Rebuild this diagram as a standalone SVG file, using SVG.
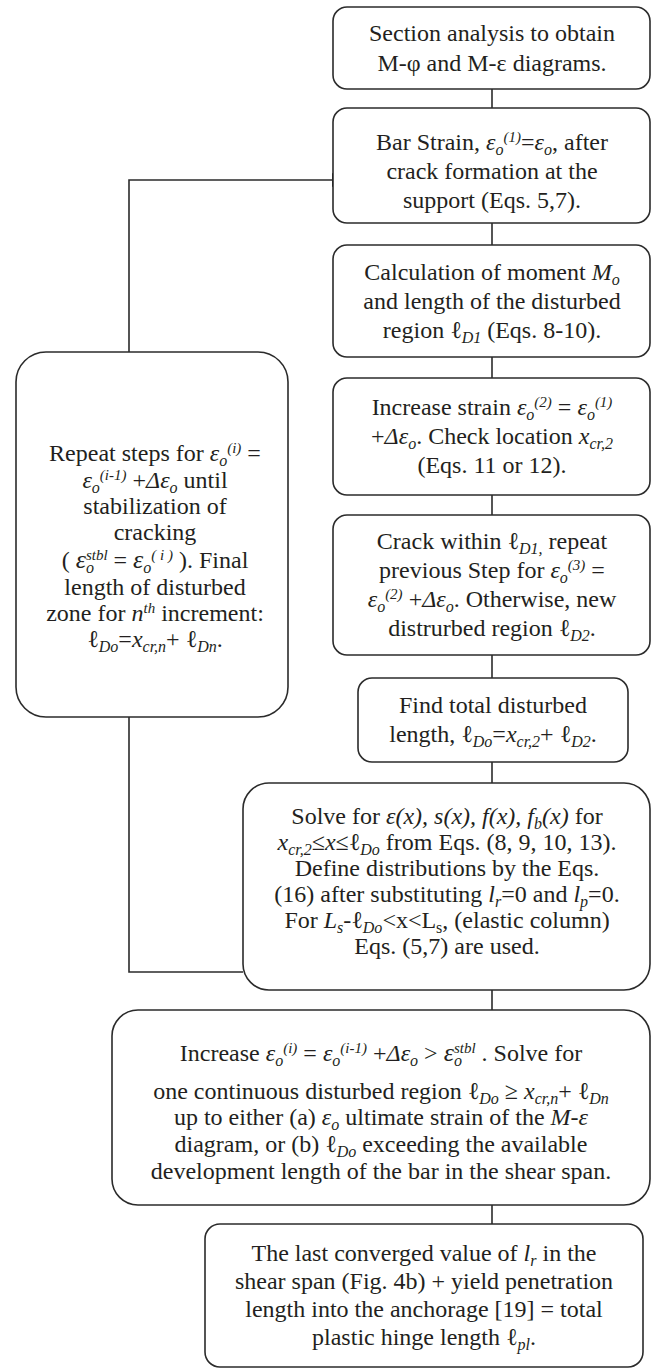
<svg xmlns="http://www.w3.org/2000/svg" width="657" height="1369" viewBox="0 0 657 1369">
<defs>
<style>
.b{fill:#fff;stroke:#2b2b2b;stroke-width:1.6}
.c{fill:none;stroke:#2b2b2b;stroke-width:1.6}
.t{font-family:"Liberation Serif","Times New Roman",serif;font-size:24px;fill:#231f20;text-anchor:middle}
.i{font-style:italic}
.sb{font-size:16px;baseline-shift:-5px}
.sp{font-size:15px;baseline-shift:8px}
.E{font-size:26px;font-style:italic}
</style>
<marker id="ah" viewBox="0 0 16 14" refX="16" refY="7" markerWidth="16" markerHeight="14" markerUnits="userSpaceOnUse" orient="auto">
<path d="M0,0 L16,7 L0,14 Z" fill="#1a1a1a"/>
</marker>
</defs>
<rect width="657" height="1369" fill="#fff"/>
<g id="connectors">
<line class="c" x1="492" y1="89" x2="492" y2="108"/>
<line class="c" x1="492" y1="223" x2="492" y2="245"/>
<line class="c" x1="492" y1="357" x2="492" y2="378"/>
<line class="c" x1="492" y1="495" x2="492" y2="515"/>
<line class="c" x1="492" y1="655" x2="492" y2="678"/>
<line class="c" x1="492" y1="762" x2="492" y2="783"/>
<line class="c" x1="492" y1="990" x2="492" y2="1010"/>
<line class="c" x1="492" y1="1205" x2="492" y2="1224"/>
<path class="c" d="M243,972 H129 V717"/>
<path class="c" d="M129,352 V180 H348" marker-end="url(#ah)"/>
</g>
<g id="n1">
<rect class="b" x="333" y="7" width="317" height="82" rx="14"/>
<text class="t" x="492" y="41">Section analysis to obtain</text>
<text class="t" x="492" y="71">M-φ and M-ε diagrams.</text>
</g>
<g id="n2">
<rect class="b" x="333" y="108" width="317" height="115" rx="14"/>
<text class="t" x="492" y="150">Bar Strain, <tspan class="i">ε</tspan><tspan class="i sb">o</tspan><tspan class="i sp">(1)</tspan>=<tspan class="i">ε</tspan><tspan class="i sb">o</tspan>, after</text>
<text class="t" x="492" y="179">crack formation at the</text>
<text class="t" x="492" y="208">support (Eqs. 5,7).</text>
</g>
<g id="n3">
<rect class="b" x="333" y="245" width="317" height="112" rx="14"/>
<text class="t" x="492" y="280">Calculation of moment <tspan class="i">M</tspan><tspan class="i sb">o</tspan></text>
<text class="t" x="492" y="309">and length of the disturbed</text>
<text class="t" x="492" y="338">region ℓ<tspan class="i sb">D1</tspan> (Eqs. 8-10).</text>
</g>
<g id="n4">
<rect class="b" x="333" y="378" width="317" height="117" rx="14"/>
<text class="t" x="492" y="415">Increase strain <tspan class="i">ε</tspan><tspan class="i sb">o</tspan><tspan class="i sp">(2)</tspan> = <tspan class="i">ε</tspan><tspan class="i sb">o</tspan><tspan class="i sp">(1)</tspan></text>
<text class="t" x="492" y="444">+<tspan class="i">Δε</tspan><tspan class="i sb">o</tspan>.  Check location <tspan class="i">x</tspan><tspan class="i sb">cr,2</tspan></text>
<text class="t" x="492" y="473">(Eqs. 11 or 12).</text>
</g>
<g id="n5">
<rect class="b" x="333" y="515" width="317" height="140" rx="14"/>
<text class="t" x="492" y="549">Crack within ℓ<tspan class="i sb">D1,</tspan> repeat</text>
<text class="t" x="492" y="578">previous Step for <tspan class="i">ε</tspan><tspan class="i sb">o</tspan><tspan class="i sp">(3)</tspan> =</text>
<text class="t" x="492" y="607"><tspan class="i">ε</tspan><tspan class="i sb">o</tspan><tspan class="i sp">(2)</tspan> +<tspan class="i">Δε</tspan><tspan class="i sb">o</tspan>. Otherwise, new</text>
<text class="t" x="492" y="636">distrurbed region ℓ<tspan class="i sb">D2</tspan>.</text>
</g>
<g id="n6">
<rect class="b" x="358" y="678" width="270" height="84" rx="14"/>
<text class="t" x="493" y="713">Find total disturbed</text>
<text class="t" x="493" y="742">length, ℓ<tspan class="i sb">Do</tspan>=<tspan class="i">x</tspan><tspan class="i sb">cr,2</tspan>+ ℓ<tspan class="i sb">D2</tspan>.</text>
</g>
<g id="n7">
<rect class="b" x="243" y="783" width="407" height="207" rx="26"/>
<text class="t" x="447" y="824">Solve for <tspan class="i">ε(x), s(x), f(x), f</tspan><tspan class="i sb">b</tspan><tspan class="i">(x)</tspan> for</text>
<text class="t" x="447" y="850"><tspan class="i">x</tspan><tspan class="i sb">cr,2</tspan>≤<tspan class="i">x</tspan>≤ℓ<tspan class="i sb">Do</tspan> from Eqs. (8, 9, 10, 13).</text>
<text class="t" x="447" y="876">Define distributions by the Eqs.</text>
<text class="t" x="447" y="902">(16) after substituting <tspan class="i">l</tspan><tspan class="i sb">r</tspan>=0 and <tspan class="i">l</tspan><tspan class="i sb">p</tspan>=0.</text>
<text class="t" x="447" y="928">For <tspan class="i">L</tspan><tspan class="i sb">s</tspan>-ℓ<tspan class="i sb">Do</tspan>&lt;x&lt;L<tspan class="sb">s</tspan>, (elastic column)</text>
<text class="t" x="447" y="954">Eqs. (5,7) are used.</text>
</g>
<g id="n8">
<rect class="b" x="16" y="352" width="272" height="365" rx="30"/>
<text class="t" x="155" y="461">Repeat steps for <tspan class="i">ε</tspan><tspan class="i sb">o</tspan><tspan class="i sp">(i)</tspan> =</text>
<text class="t" x="155" y="488"><tspan class="i">ε</tspan><tspan class="i sb">o</tspan><tspan class="i sp">(i-1)</tspan> +<tspan class="i">Δε</tspan><tspan class="i sb">o</tspan> until</text>
<text class="t" x="155" y="514">stabilization of</text>
<text class="t" x="155" y="540">cracking</text>
<text class="t" x="155" y="568">( <tspan class="E">ε</tspan><tspan class="i sb">o</tspan><tspan class="i sp" dx="-8">stbl</tspan> = <tspan class="E">ε</tspan><tspan class="i sb">o</tspan><tspan class="i sp">( i )</tspan> ). Final</text>
<text class="t" x="155" y="595">length of disturbed</text>
<text class="t" x="155" y="621">zone for <tspan class="i">n</tspan><tspan class="i sp">th</tspan> increment:</text>
<text class="t" x="155" y="647">ℓ<tspan class="i sb">Do</tspan>=<tspan class="i">x</tspan><tspan class="i sb">cr,n</tspan>+ ℓ<tspan class="i sb">Dn</tspan>.</text>
</g>
<g id="n9">
<rect class="b" x="112" y="1010" width="538" height="195" rx="26"/>
<text class="t" x="381" y="1061">Increase <tspan class="i">ε</tspan><tspan class="i sb">o</tspan><tspan class="i sp">(i)</tspan> = <tspan class="i">ε</tspan><tspan class="i sb">o</tspan><tspan class="i sp">(i-1)</tspan> +<tspan class="i">Δε</tspan><tspan class="i sb">o</tspan> &gt; <tspan class="E">ε</tspan><tspan class="i sb">o</tspan><tspan class="i sp" dx="-8">stbl</tspan> .  Solve for</text>
<text class="t" x="381" y="1099">one continuous disturbed region ℓ<tspan class="i sb">Do</tspan> ≥ <tspan class="i">x</tspan><tspan class="i sb">cr,n</tspan>+ ℓ<tspan class="i sb">Dn</tspan></text>
<text class="t" x="381" y="1125">up to either (a) <tspan class="i">ε</tspan><tspan class="i sb">o</tspan> ultimate strain of the <tspan class="i">M-ε</tspan></text>
<text class="t" x="381" y="1152">diagram, or (b) ℓ<tspan class="i sb">Do</tspan> exceeding the available</text>
<text class="t" x="381" y="1179">development length of the bar in the shear span.</text>
</g>
<g id="n10">
<rect class="b" x="205" y="1224" width="438" height="143" rx="15"/>
<text class="t" x="424" y="1261">The last converged value of <tspan class="i">l</tspan><tspan class="i sb">r</tspan> in the</text>
<text class="t" x="424" y="1289">shear span (Fig. 4b) + yield penetration</text>
<text class="t" x="424" y="1317">length into the anchorage [19] = total</text>
<text class="t" x="424" y="1345">plastic hinge length ℓ<tspan class="i sb">pl</tspan>.</text>
</g>
</svg>
